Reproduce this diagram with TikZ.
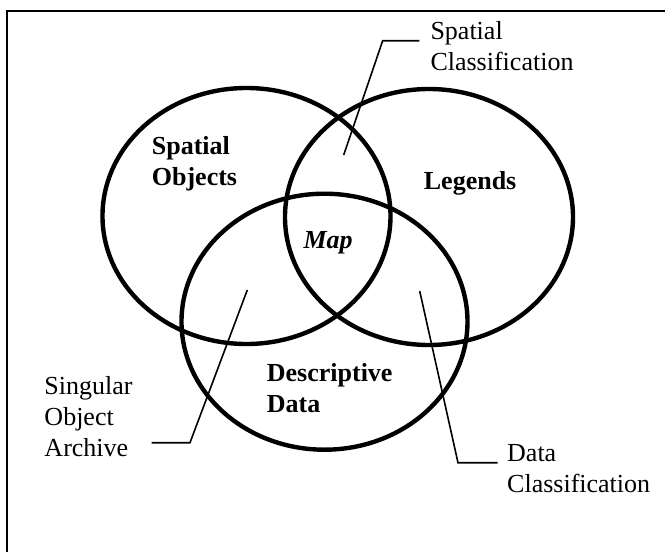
\documentclass[tikz,border=0pt]{standalone}
\usepackage{fontspec}
\setmainfont{Liberation Serif}

\tikzset{
  venn/.style={line width=4.4pt},
  leader/.style={line width=1.6pt},
  lbl/.style={anchor=base west, inner sep=0pt, align=left, font=\fontsize{26}{31}\selectfont},
  blbl/.style={lbl, font=\fontsize{26}{31}\selectfont\bfseries}
}

\begin{document}
\begin{tikzpicture}[x=1pt,y=1pt,yscale=-1,xscale=1]
        \useasboundingbox (0,0) rectangle (665,552);
        \clip (0,0) rectangle (665,552);
        %Shape: Frame (right and bottom sides run off the page)
        \draw [line width=1.8pt] (7.3,10.7) rectangle (690,580);

        %Shape: Ellipse, spatial objects
        \draw [venn] (246.5,216) ellipse [x radius=144, y radius=128];
        %Shape: Ellipse, legends
        \draw [venn] (429,217) ellipse [x radius=144, y radius=128];
        %Shape: Ellipse, descriptive data
        \draw [venn] (324.5,321.7) ellipse [x radius=143, y radius=128];

        % Text Node (anchored on the baseline of the last line)
        \node [blbl] (spobj) at (151.7,185) {Spatial\\Objects};
        % Text Node
        \node [blbl] (legend) at (423.7,189.3) {Legends};
        % Text Node
        \node [lbl, font=\fontsize{26}{31}\selectfont\bfseries\itshape] (map) at (303.3,248.3) {Map};
        % Text Node
        \node [blbl] (descdata) at (266.7,412.7) {Descriptive\\Data};
        % Text Node
        \node [lbl] (spclass) at (430.3,70.7) {Spatial\\Classification};
        % Text Node
        \node [lbl] (singobj) at (44.3,456) {Singular\\Object\\Archive};
        % Text Node
        \node [lbl] (dataclass) at (507,492.7) {Data\\Classification};

        %Straight Lines, leader to spatial classification
        \coordinate (spclass-tip) at (343.7,155);
        \coordinate (spclass-bend) at (382.7,40.7);
        \coordinate (spclass-end) at (419.3,40.7);
        \draw [leader] (spclass-tip) -- (spclass-bend) -- (spclass-end);
        %Straight Lines, leader to singular object archive
        \coordinate (singobj-tip) at (247.3,290);
        \coordinate (singobj-bend) at (190,442.7);
        \coordinate (singobj-end) at (151.7,442.7);
        \draw [leader] (singobj-tip) -- (singobj-bend) -- (singobj-end);
        %Straight Lines, leader to data classification
        \coordinate (dataclass-tip) at (419.7,291);
        \coordinate (dataclass-bend) at (458,462.7);
        \coordinate (dataclass-end) at (497.7,462.7);
        \draw [leader] (dataclass-tip) -- (dataclass-bend) -- (dataclass-end);
\end{tikzpicture}
\end{document}
